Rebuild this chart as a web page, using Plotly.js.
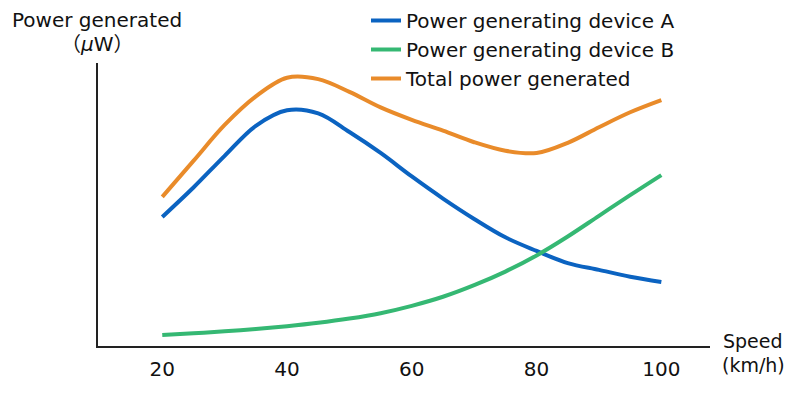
<!DOCTYPE html>
<html>
<head>
<meta charset="utf-8">
<script src="https://cdn.plot.ly/plotly-3.0.1.min.js"></script>
<style>html,body{margin:0;padding:0;background:#fff;}#chart{width:800px;height:395px;}</style>
</head>
<body>
<div id="chart"></div>
<script>
const speed = [20,25,30,35,40,45,50,55,60,65,70,75,80,85,90,95,100];
const deviceA = [45.6,56.0,67.2,77.8,83.3,82.2,75.6,68.2,59.9,52.1,44.9,38.4,33.6,29.3,26.9,24.5,22.6];
const deviceB = [3.9,4.5,5.2,6.0,7.0,8.2,9.7,11.6,14.2,17.4,21.5,26.3,32.0,38.7,46.0,53.3,60.4];
const total = [52.7,65.4,78.1,88.2,94.8,94.3,89.8,84.3,79.9,76.1,72.0,69.0,68.2,71.8,77.3,82.6,86.9];
const xTicks = [20,40,60,80,100];
const names = ["Power generating device A","Power generating device B","Total power generated"];
const colors = ["#0b63c1","#35b873","#e98b2a"];
const FONT = "DejaVu Sans, Noto Sans CJK JP, sans-serif";

// plot area in pixels: x 98..710, y 63..346
const PL = 98, PR = 710, PT = 63, PB = 346;
const px = v => (v - PL) / (PR - PL);
const py = v => (PB - v) / (PB - PT);

const series = [deviceA, deviceB, total];
const traces = series.map((ys, i) => ({
  x: speed, y: ys, name: names[i], type: "scatter", mode: "lines",
  line: {color: colors[i], width: 4, shape: "spline", smoothing: 1},
  legendgroup: "g" + i
}));

const layout = {
  width: 800, height: 395,
  margin: {l: PL, r: 800 - PR, t: PT, b: 395 - PB, autoexpand: false},
  paper_bgcolor: "#fff", plot_bgcolor: "#fff",
  font: {family: FONT, size: 20, color: "#111"},
  showlegend: true,
  legend: {x: px(366), y: py(1), xanchor: "left", yanchor: "top",
           font: {family: FONT, size: 20, color: "#111"}, tracegroupgap: 0, bgcolor: "rgba(0,0,0,0)"},
  xaxis: {range: [9.7, 107.8], tickvals: xTicks, ticktext: xTicks.map(String), showgrid: false, zeroline: false,
          showline: true, linecolor: "#222", linewidth: 2, ticks: "", ticklabelstandoff: 4,
          tickfont: {family: FONT, size: 20, color: "#111"}},
  yaxis: {range: [0, 100], showticklabels: false, showgrid: false, zeroline: false,
          showline: true, linecolor: "#222", linewidth: 2, ticks: ""},
  annotations: [
    {text: "Power generated", xref: "paper", yref: "paper", x: px(97), y: py(20), yanchor: "middle", xanchor: "center",
     showarrow: false, font: {family: FONT, size: 20, color: "#111"}},
    {text: "（<i>μ</i>W）", xref: "paper", yref: "paper", x: px(97), y: py(44), yanchor: "middle", xanchor: "center",
     showarrow: false, font: {family: FONT, size: 20, color: "#111"}},
    {text: "Speed", xref: "paper", yref: "paper", x: px(753), y: py(341), yanchor: "middle", xanchor: "center",
     showarrow: false, font: {family: FONT, size: 19, color: "#111"}},
    {text: "(km/h)", xref: "paper", yref: "paper", x: px(753), y: py(365), yanchor: "middle", xanchor: "center",
     showarrow: false, font: {family: FONT, size: 19, color: "#111"}}
  ]
};
Plotly.newPlot("chart", traces, layout, {staticPlot: true, displayModeBar: false});
</script>
</body>
</html>
